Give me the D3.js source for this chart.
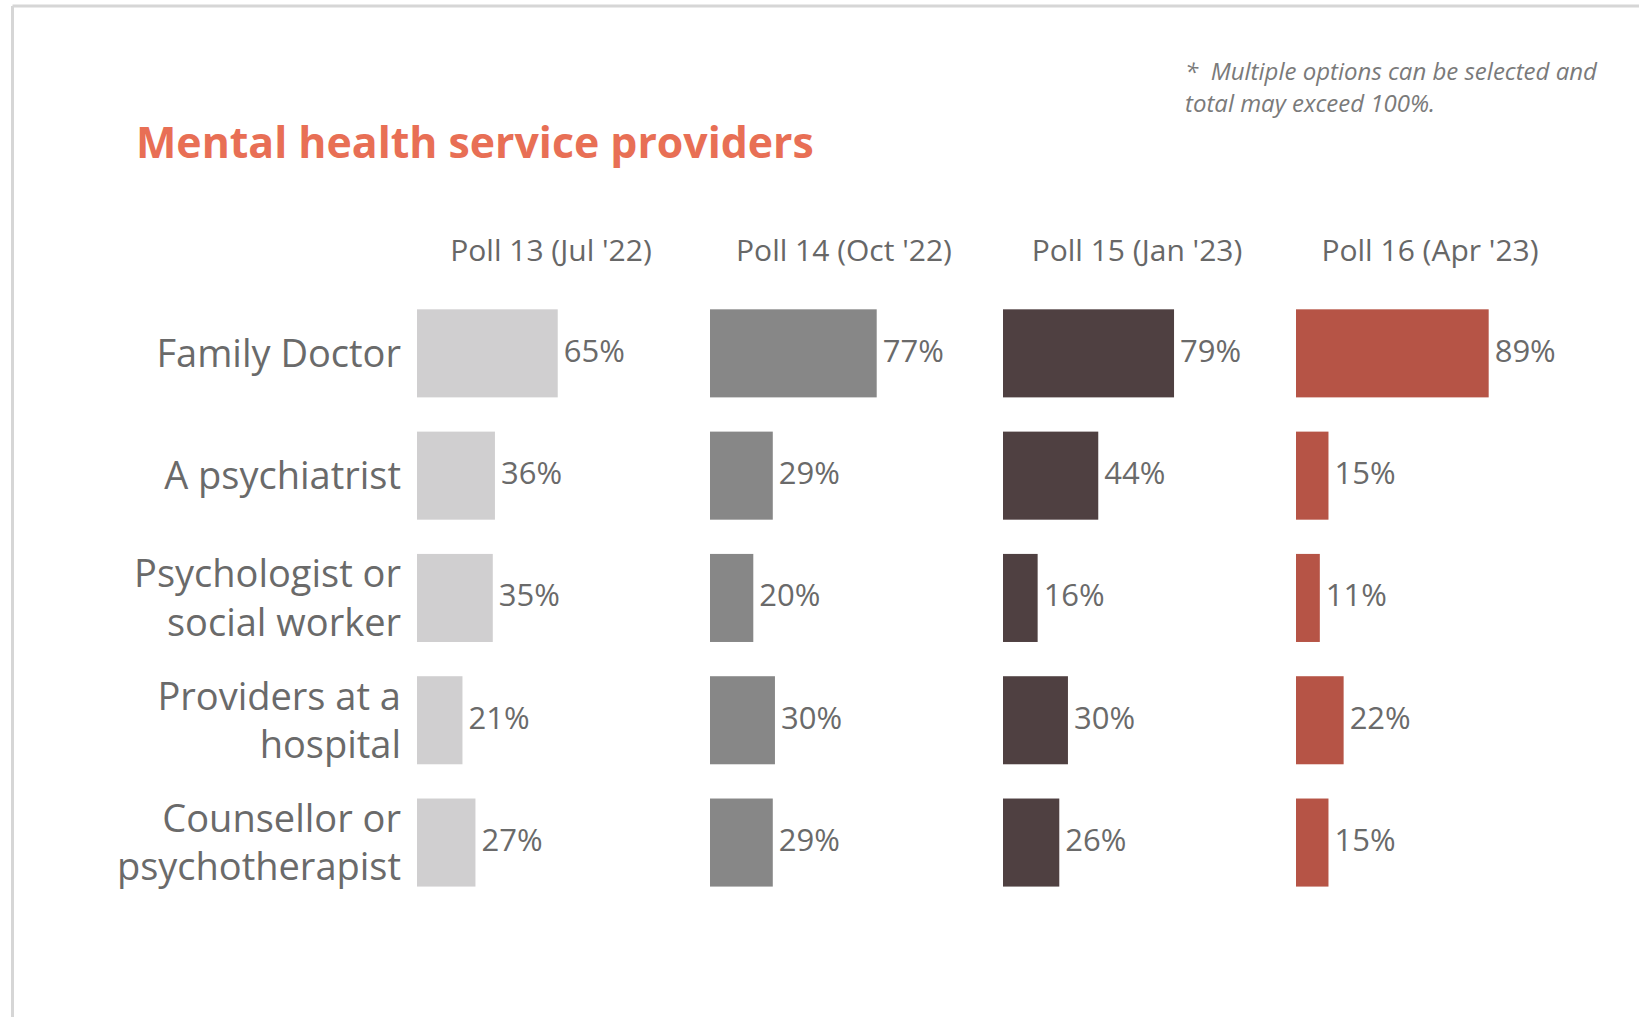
<!DOCTYPE html>
<html>
<head>
<meta charset="utf-8">
<script src="https://cdn.jsdelivr.net/npm/d3@7"></script>
<style>
  html, body { margin: 0; padding: 0; background: #ffffff; }
  svg { display: block; }
  text { font-family: "Open Sans", "Noto Sans", sans-serif; }
</style>
</head>
<body>
<svg id="chart" width="1639" height="1017"></svg>
<script>
// Survey responses: share of respondents naming each provider (percent)
const categories = [
  ["Family Doctor"],
  ["A psychiatrist"],
  ["Psychologist or", "social worker"],
  ["Providers at a", "hospital"],
  ["Counsellor or", "psychotherapist"]
];
const polls = ["Poll 13 (Jul '22)", "Poll 14 (Oct '22)", "Poll 15 (Jan '23)", "Poll 16 (Apr '23)"];
const poll13 = [65, 36, 35, 21, 27];
const poll14 = [77, 29, 20, 30, 29];
const poll15 = [79, 44, 16, 30, 26];
const poll16 = [89, 15, 11, 22, 15];
const pollColors = ["#d0cfd0", "#878787", "#4f4041", "#b65446"];

const title = "Mental health service providers";
const noteLines = ["*  Multiple options can be selected and", "total may exceed 100%."];

const series = [poll13, poll14, poll15, poll16];
const catKeys = categories.map(c => c.join(" "));

const svg = d3.select("#chart");

// page frame (top and left edges)
svg.append("line").attr("x1", 12.5).attr("x2", 1639).attr("y1", 6).attr("y2", 6)
  .attr("stroke", "#d6d6d6").attr("stroke-width", 3);
svg.append("line").attr("x1", 12.5).attr("x2", 12.5).attr("y1", 6).attr("y2", 1017)
  .attr("stroke", "#d6d6d6").attr("stroke-width", 3);

// title
svg.append("text")
  .attr("x", 136).attr("y", 158)
  .attr("font-size", 42.8).attr("font-weight", 700)
  .attr("fill", "#e86f55")
  .text(title);

// footnote
svg.append("g").selectAll("text").data(noteLines).join("text")
  .attr("x", 1185).attr("y", (d, i) => 80 + i * 31.5)
  .attr("font-size", 24).attr("font-style", "italic")
  .attr("fill", "#7a7a7a")
  .style("white-space", "pre")
  .text(d => d);

// scales
const col = d3.scaleBand().domain(polls).range([417, 1589]);
const row = d3.scaleBand().domain(catKeys).range([292.2, 903.7]).paddingInner(0.28).paddingOuter(0.14);
const x = d3.scaleLinear().domain([0, 100]).range([0, 216.5]);

// poll headers
svg.append("g").selectAll("text").data(polls).join("text")
  .attr("x", d => col(d) + 134)
  .attr("y", 261)
  .attr("text-anchor", "middle")
  .attr("font-size", 30)
  .attr("fill", "#676767")
  .text(d => d);

// category labels (right aligned, vertically centred on the bar)
const catG = svg.append("g");
categories.forEach((lines, i) => {
  const cy = row(catKeys[i]) + row.bandwidth() / 2;
  const lh = 48.3;
  const first = cy + 13.5 - (lines.length - 1) * lh / 2;
  catG.append("text")
    .attr("text-anchor", "end")
    .attr("font-size", 38)
    .attr("fill", "#6a6a6a")
    .selectAll("tspan").data(lines).join("tspan")
    .attr("x", 401)
    .attr("y", (d, j) => first + j * lh)
    .text(d => d);
});

// bars and value labels per poll
series.forEach((vals, s) => {
  const g = svg.append("g").attr("transform", `translate(${col(polls[s])},0)`);
  g.selectAll("rect").data(vals).join("rect")
    .attr("x", 0)
    .attr("y", (d, i) => row(catKeys[i]))
    .attr("width", d => x(d))
    .attr("height", row.bandwidth())
    .attr("fill", pollColors[s]);
  g.selectAll("text").data(vals).join("text")
    .attr("x", d => x(d) + 6)
    .attr("y", (d, i) => row(catKeys[i]) + row.bandwidth() / 2 + 8.5)
    .attr("font-size", 31)
    .attr("fill", "#6a6a6a")
    .text(d => d + "%");
});
</script>
</body>
</html>
